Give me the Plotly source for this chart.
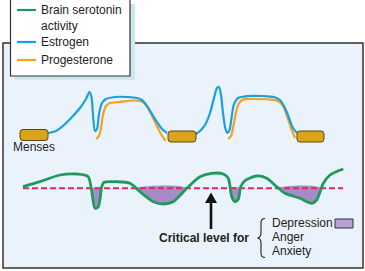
import plotly.graph_objects as go
import numpy as np

# ---- data (diagram coordinates) ----
menses_x = [[20, 48], [168, 196], [297, 324]]
menses_y = [135, 136.5, 136.5]

estrogen1_x = [48, 56, 64, 72, 80, 86, 89.5, 91.5, 93, 95, 97, 99, 102, 106, 115, 128, 137, 142, 147, 152, 157, 162, 167]
estrogen1_y = [133, 131, 125, 117, 108, 99, 92, 97, 115, 131, 129, 114, 103, 99, 97, 97, 98, 100, 106, 114, 122, 129, 133]
estrogen2_x = [196, 200, 205, 210, 214, 217, 219, 221, 223, 225.5, 227.5, 229.5, 231.5, 234, 238, 248, 262, 274, 280, 285, 289, 293, 297]
estrogen2_y = [134, 131, 125, 113, 98, 88, 87, 95, 113, 129, 133, 130, 118, 104, 98, 96, 96, 97, 100, 108, 118, 128, 133]

progest1_x = [96, 99, 101, 103, 106, 110, 120, 133, 140, 145, 150, 156, 161, 165.5]
progest1_y = [139, 136, 128, 115, 106, 103, 102, 100.5, 101, 104, 112, 124, 134, 141]
progest2_x = [228, 231, 233, 235.5, 238.5, 243, 255, 270, 278, 283, 287, 291, 295]
progest2_y = [139, 136, 128, 115, 104, 99.5, 99, 99.5, 101, 106, 116, 128, 138]

serotonin_x = [23, 40, 60, 77, 88, 91.5, 95, 98.3, 101.7, 104, 116.7, 130, 140, 153.3, 163.3, 173.3, 186.7, 200, 211.7, 223.3, 228.3, 231.7, 235, 238.3, 240.7, 245, 256.7, 266.7, 276.7, 285, 300, 311.7, 316.7, 323.3, 330, 343.3]
serotonin_y = [186.7, 181.7, 175, 174, 176.5, 190, 208.3, 206.7, 186.7, 182.3, 181.7, 183.3, 191.7, 201.7, 204, 201.7, 188.3, 176.7, 173.3, 174, 178.3, 196.7, 201.7, 199.3, 186.7, 180.7, 176, 178.3, 186.7, 193.3, 198.3, 203.3, 200, 183.3, 175, 169]

critical_level = 188.3
critical_x = [23, 343]
arrow_x = 211

legend_labels = ["Brain serotonin<br>activity", "Estrogen", "Progesterone"]
symptom_labels = ["Depression", "Anger", "Anxiety"]

GREEN = "#1f9a5c"
BLUE = "#1aa0e0"
ORANGE = "#f5a01e"
PURPLE = "#a58cc6"
PINK = "#e8245c"
GOLD = "#d9a41b"
FONT = "Liberation Sans, Arial, sans-serif"

fig = go.Figure()

# dip fill polygons (green below critical level)
sx = np.array(serotonin_x, float)
sy = np.array(serotonin_y, float)
below = sy > critical_level
i = 0
n = len(sx)
while i < n:
    if below[i]:
        j = i
        while j + 1 < n and below[j + 1]:
            j += 1
        # crossing points
        t0 = (critical_level - sy[i - 1]) / (sy[i] - sy[i - 1])
        xa = sx[i - 1] + t0 * (sx[i] - sx[i - 1])
        t1 = (critical_level - sy[j]) / (sy[j + 1] - sy[j])
        xb = sx[j] + t1 * (sx[j + 1] - sx[j])
        px = [xa] + list(sx[i:j + 1]) + [xb, xa]
        py = [critical_level] + list(sy[i:j + 1]) + [critical_level, critical_level]
        fig.add_trace(go.Scatter(x=px, y=py, mode="lines", fill="toself",
                                 fillcolor=PURPLE, line=dict(width=0, shape="spline"),
                                 hoverinfo="skip", showlegend=False))
        i = j + 1
    else:
        i += 1

# critical dashed line
fig.add_trace(go.Scatter(x=critical_x, y=[critical_level] * 2, mode="lines",
                         line=dict(color=PINK, width=2, dash="6px,3px"),
                         hoverinfo="skip", showlegend=False))

# hormone curves
for xs, ys, c in [(progest1_x, progest1_y, ORANGE), (progest2_x, progest2_y, ORANGE),
                  (estrogen1_x, estrogen1_y, BLUE), (estrogen2_x, estrogen2_y, BLUE)]:
    fig.add_trace(go.Scatter(x=xs, y=ys, mode="lines",
                             line=dict(color=c, width=2.2, shape="spline", smoothing=0.8),
                             hoverinfo="skip", showlegend=False))

fig.add_trace(go.Scatter(x=serotonin_x, y=serotonin_y, mode="lines",
                         line=dict(color=GREEN, width=2.8, shape="spline", smoothing=0.8),
                         hoverinfo="skip", showlegend=False))

shapes = []
# panel
shapes.append(dict(type="rect", x0=3, x1=363, y0=43, y1=268, layer="below",
                   fillcolor="#eaf3fb", line=dict(color="#333333", width=1.5)))
# legend shadow and box
shapes.append(dict(type="rect", x0=15, x1=135, y0=4, y1=80, layer="above",
                   fillcolor="#cbe7ef", line=dict(width=0)))
shapes.append(dict(type="rect", x0=10.5, x1=130, y0=-2, y1=76, layer="above",
                   fillcolor="white", line=dict(color="#333333", width=1.2)))
for yy, c in [(10, GREEN), (42, BLUE), (60, ORANGE)]:
    shapes.append(dict(type="line", x0=17, x1=36, y0=yy, y1=yy, layer="above",
                       line=dict(color=c, width=2.2)))

# menses bars (rounded)
for (x0, x1), yc in zip(menses_x, menses_y):
    h = 5.5
    r = 3
    path = (f"M {x0+r},{yc-h} L {x1-r},{yc-h} Q {x1},{yc-h} {x1},{yc-h+r} "
            f"L {x1},{yc+h-r} Q {x1},{yc+h} {x1-r},{yc+h} L {x0+r},{yc+h} "
            f"Q {x0},{yc+h} {x0},{yc+h-r} L {x0},{yc-h+r} Q {x0},{yc-h} {x0+r},{yc-h} Z")
    shapes.append(dict(type="path", path=path, fillcolor=GOLD,
                       line=dict(color="#5e4800", width=1), layer="above"))

# arrow
shapes.append(dict(type="line", x0=arrow_x, x1=arrow_x, y0=229, y1=201,
                   line=dict(color="#111111", width=2.6)))
shapes.append(dict(type="path", path=f"M {arrow_x-6},{203} L {arrow_x},{192.5} L {arrow_x+6},{203} Z",
                   fillcolor="#111111", line=dict(width=0)))

# brace
shapes.append(dict(type="path",
                   path="M 265,218.5 Q 261,218.5 261,223 L 261,233 Q 261,237.5 257.5,238 "
                        "Q 261,238.5 261,243 L 261,253 Q 261,257.5 265,257.5",
                   line=dict(color="#222222", width=1.1)))
# depression swatch
shapes.append(dict(type="rect", x0=335, x1=353, y0=219, y1=228,
                   fillcolor="#b6a2d8", line=dict(color="#333333", width=1)))

annotations = []
def txt(x, y, s, anchor="left", bold=False):
    annotations.append(dict(x=x, y=y, text=f"<b>{s}</b>" if bold else s, showarrow=False,
                            xanchor=anchor, yanchor="middle",
                            font=dict(family=FONT, size=12, color="#222222"), align="left"))

txt(39, 18, legend_labels[0])
txt(39, 42, legend_labels[1])
txt(39, 60, legend_labels[2])
txt(34, 146.5, "Menses", anchor="center")
txt(251, 238, "Critical level for", anchor="right", bold=True)
txt(270, 222.5, symptom_labels[0])
txt(270, 237, symptom_labels[1])
txt(270, 251, symptom_labels[2])

fig.update_layout(
    width=365, height=271, margin=dict(l=0, r=0, t=0, b=0),
    paper_bgcolor="white", plot_bgcolor="white",
    xaxis=dict(range=[0, 365], visible=False, fixedrange=True),
    yaxis=dict(range=[271, 0], visible=False, fixedrange=True),
    shapes=shapes, annotations=annotations, showlegend=False,
)
fig.update_annotations(selector=dict(text=legend_labels[0]), yanchor="middle")
fig.write_html("out.html", config={"displayModeBar": False})
